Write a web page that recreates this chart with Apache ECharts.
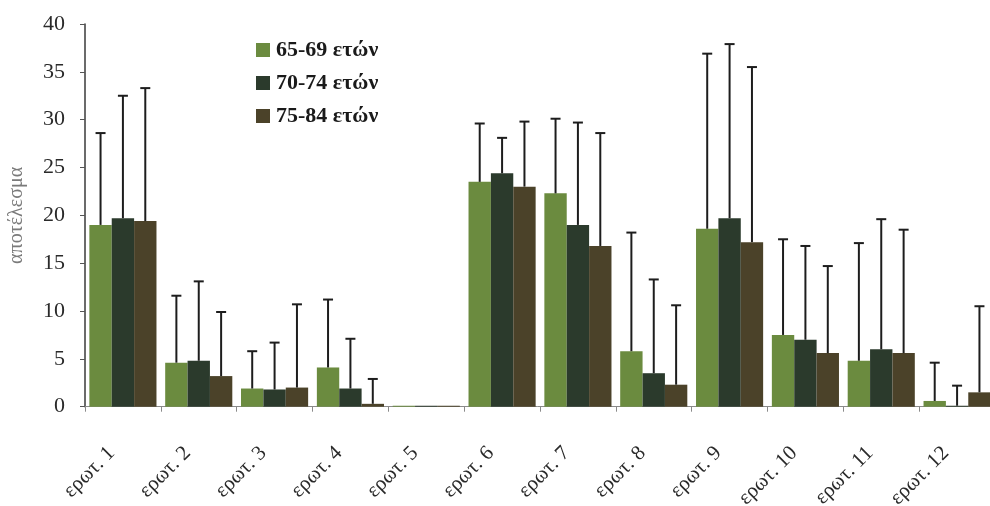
<!DOCTYPE html>
<html>
<head>
<meta charset="utf-8">
<script src="https://cdn.jsdelivr.net/npm/echarts@6/dist/echarts.min.js"></script>
<style>
  html, body { margin: 0; padding: 0; background: #fff; }
  #chart { width: 990px; height: 506px; }
</style>
</head>
<body>
<div id="chart"></div>
<script>
// Question labels along the x axis
const categories = ['ερωτ. 1', 'ερωτ. 2', 'ερωτ. 3', 'ερωτ. 4', 'ερωτ. 5', 'ερωτ. 6',
                    'ερωτ. 7', 'ερωτ. 8', 'ερωτ. 9', 'ερωτ. 10', 'ερωτ. 11', 'ερωτ. 12'];

// Age groups
const groupNames = ['65-69 ετών', '70-74 ετών', '75-84 ετών'];

// Mean score per question for each age group
const mean6569 = [19.0, 4.6, 1.9, 4.1, 0.1, 23.5, 22.3, 5.8, 18.6, 7.5, 4.8, 0.6];
const mean7074 = [19.7, 4.8, 1.8, 1.9, 0.1, 24.4, 19.0, 3.5, 19.7, 7.0, 6.0, 0.1];
const mean7584 = [19.4, 3.2, 2.0, 0.3, 0.1, 23.0, 16.8, 2.3, 17.2, 5.6, 5.6, 1.5];

// Standard deviations (upper error bars); null = no bar drawn
const sd6569 = [9.6, 7.0, 3.9, 7.1, null, 6.1, 7.8, 12.4, 18.3, 10.0, 12.3, 4.0];
const sd7074 = [12.8, 8.3, 4.9, 5.2, null, 3.7, 10.7, 9.8, 18.2, 9.8, 13.6, 2.1];
const sd7584 = [13.9, 6.7, 8.7, 2.6, null, 6.8, 11.8, 8.3, 18.3, 9.1, 12.9, 9.0];

// Y axis scale
const yMin = 0, yMax = 40, yStep = 5;

const colors = ['#6b8b3f', '#2b3a2c', '#4b4229'];
const means = [mean6569, mean7074, mean7584];
const sds = [sd6569, sd7074, sd7584];

// Each bar takes this share of a category band; three bars sit side by side
const barShare = 0.295;

const serif = '"Liberation Serif", "DejaVu Serif", serif';

const chart = echarts.init(document.getElementById('chart'));

const barSeries = groupNames.map((name, k) => ({
  name: name,
  type: 'bar',
  data: means[k],
  barWidth: (barShare * 100) + '%',
  barGap: '0%',
  itemStyle: { color: colors[k] },
  z: 2
}));

const errorSeries = groupNames.map((name, k) => ({
  type: 'custom',
  name: name + ' sd',
  z: 3,
  silent: true,
  encode: { x: 0, y: [1, 2] },
  data: means[k].map((m, i) => sds[k][i] == null ? null : [i, m, m + sds[k][i]]),
  renderItem: function (params, api) {
    const idx = api.value(0);
    const base = api.coord([idx, api.value(1)]);
    const top = api.coord([idx, api.value(2)]);
    const band = api.size([1, 0])[0];
    const x = base[0] + (k - 1) * band * barShare;
    const cap = 5;
    const style = { stroke: '#1d1d1d', lineWidth: 2 };
    return {
      type: 'group',
      children: [
        { type: 'line', shape: { x1: x, y1: base[1], x2: x, y2: top[1] }, style: style },
        { type: 'line', shape: { x1: x - cap, y1: top[1], x2: x + cap, y2: top[1] }, style: style }
      ]
    };
  }
}));

chart.setOption({
  animation: false,
  backgroundColor: '#ffffff',
  color: colors,
  grid: {
    left: 85, top: 24, width: 910, height: 382.7,
    containLabel: false,
    outerBoundsMode: 'none'
  },
  legend: {
    data: groupNames,
    orient: 'vertical',
    left: 251,
    top: 34,
    itemWidth: 14,
    itemHeight: 14,
    itemGap: 11,
    icon: 'rect',
    textStyle: { fontFamily: serif, fontSize: 22, fontWeight: 'bold', color: '#1a1a1a', padding: [0, 0, 0, 1] }
  },
  xAxis: {
    type: 'category',
    data: categories,
    axisLine: { lineStyle: { color: '#8a8a8a', width: 1 } },
    axisTick: { show: true, length: 5, lineStyle: { color: '#8a8a8a' } },
    axisLabel: {
      rotate: 45,
      margin: 32,
      padding: [0, 16, 0, 0],
      fontFamily: serif,
      fontSize: 21,
      color: '#2a2a2a',
      interval: 0
    }
  },
  yAxis: {
    type: 'value',
    min: yMin,
    max: yMax,
    interval: yStep,
    name: 'αποτέλεσμα',
    nameLocation: 'middle',
    nameGap: 58,
    nameTextStyle: { fontFamily: serif, fontSize: 20, color: '#7a7a7a' },
    splitLine: { show: false },
    axisLine: { show: true, lineStyle: { color: '#3a3a3a', width: 1.5 } },
    axisTick: { show: true, length: 5, lineStyle: { color: '#555' } },
    axisLabel: { fontFamily: serif, fontSize: 22, color: '#2a2a2a', margin: 20 }
  },
  series: barSeries.concat(errorSeries)
});
</script>
</body>
</html>
